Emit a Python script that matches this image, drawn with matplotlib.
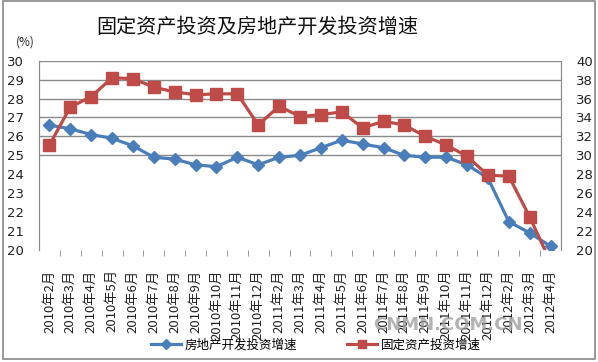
import matplotlib
matplotlib.use("Agg")
import matplotlib.pyplot as plt
from matplotlib.patches import Rectangle
from matplotlib.lines import Line2D

plt.rcParams['font.family'] = ['Noto Sans CJK SC', 'DejaVu Sans']

categories = ["2010年2月", "2010年3月", "2010年4月", "2010年5月", "2010年6月", "2010年7月",
              "2010年8月", "2010年9月", "2010年10月", "2010年11月", "2010年12月",
              "2011年2月", "2011年3月", "2011年4月", "2011年5月", "2011年6月", "2011年7月",
              "2011年8月", "2011年9月", "2011年10月", "2011年11月", "2011年12月",
              "2012年2月", "2012年3月", "2012年4月"]
blue_values = [26.6, 26.4, 26.1, 25.9, 25.5, 24.9, 24.8, 24.5, 24.4, 24.9, 24.5,
               24.9, 25.0, 25.4, 25.8, 25.6, 25.4, 25.0, 24.9, 24.9, 24.5, 23.8,
               21.5, 20.9, 20.2]
red_values = [31.1, 35.1, 36.2, 38.2, 38.1, 37.2, 36.7, 36.4, 36.5, 36.5, 33.2,
              35.2, 34.1, 34.3, 34.6, 32.9, 33.6, 33.2, 32.0, 31.1, 29.9, 27.9,
              27.8, 23.5, 18.7]
blue_name = "房地产开发投资增速"
red_name = "固定资产投资增速"
title = "固定资产投资及房地产开发投资增速"
left_ticks = list(range(20, 31))
right_ticks = list(range(20, 41, 2))

W, H = 598, 362
fig = plt.figure(figsize=(W / 100, H / 100), dpi=100)
fig.patch.set_facecolor('white')

ax = fig.add_axes([39 / W, 1 - 250 / H, 522 / W, (250 - 60.7) / H])
ax2 = ax.twinx()

grid_c = '#8a8a8a'
x = list(range(len(categories)))

# gridlines only in upper half
for v in range(25, 31):
    ax.axhline(v, color=grid_c, lw=1, zorder=0)

ax.plot(x, blue_values, color='#4a7ebb', lw=2.3, marker='D', ms=6.5,
        markerfacecolor='#4a7ebb', markeredgecolor='#4a7ebb', zorder=3)
ax2.plot(x, red_values, color='#be4b48', lw=2.3, marker='s', ms=8,
         markerfacecolor='#be4b48', markeredgecolor='#be4b48', zorder=3)

ax.set_xlim(-0.5, len(categories) - 0.5)
ax.set_ylim(20, 30)
ax2.set_ylim(20, 40)

ax.set_xticks(x)
ax.set_xticklabels(categories, rotation=90, fontsize=9.5, color='#222222')
ax.set_xticks([i + 0.5 for i in range(len(categories) - 1)], minor=True)
ax.tick_params(axis='x', which='major', length=0, pad=14)
ax.tick_params(axis='x', which='minor', length=4, color=grid_c, direction='out')

ax.set_yticks(left_ticks)
ax.set_yticklabels([str(t) for t in left_ticks], fontsize=9.5, color='#222222',
                   family='DejaVu Sans')
ax.set_yticks(list(range(25, 31)), minor=True)
ax.tick_params(axis='y', which='major', length=0, pad=11)
ax.tick_params(axis='y', which='minor', length=5, color=grid_c)

ax2.set_yticks(right_ticks)
ax2.set_yticklabels([str(t) for t in right_ticks], fontsize=9.5, color='#222222',
                    family='DejaVu Sans')
ax2.set_yticks(list(range(30, 41, 2)), minor=True)
ax2.tick_params(axis='y', which='major', length=0, pad=11)
ax2.tick_params(axis='y', which='minor', length=2, color=grid_c)

for a in (ax, ax2):
    a.spines['top'].set_visible(False)
    a.spines['bottom'].set_visible(False)
    a.spines['left'].set_color(grid_c)
    a.spines['right'].set_color(grid_c)

fig.text(257 / W, 1 - 27 / H, title, ha='center', va='center', fontsize=14.5, color='#111111')
fig.text(25 / W, 1 - 42 / H, "(%)", ha='center', va='center', fontsize=8.5, color='#222222')

fig.text(448 / W, 1 - 325 / H, "CNMN.COM.CN", ha='center', va='center', fontsize=13,
         fontweight='bold', color='#9a9a9a', alpha=0.75, family='DejaVu Sans')

handles = [Line2D([], [], color='#4a7ebb', lw=2.3, marker='D', ms=5),
           Line2D([], [], color='#be4b48', lw=2.3, marker='s', ms=6)]
fig.legend(handles, [blue_name, red_name], ncol=2, loc='center',
           bbox_to_anchor=(316 / W, 1 - 345 / H), frameon=False, fontsize=9,
           handlelength=2.4, columnspacing=4, handletextpad=0.3)

fig.patches.append(Rectangle((3 / W, 1 - 359 / H), 592 / W, 358 / H, transform=fig.transFigure,
                             fill=False, edgecolor='#888888', lw=1.2))

fig.savefig('out.png', dpi=100)
